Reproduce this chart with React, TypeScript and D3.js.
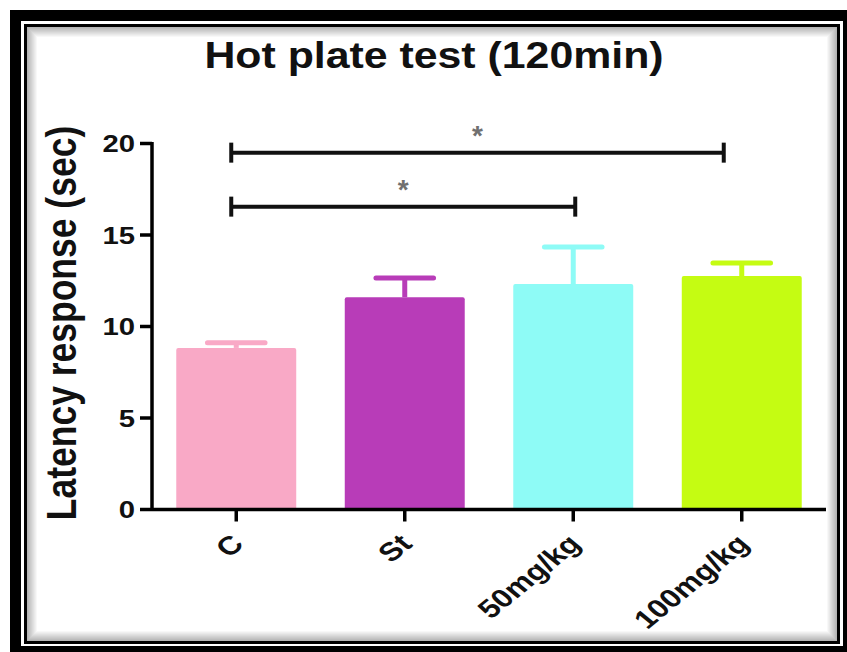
import React from 'react';
import * as d3 from 'd3';

// ---- data ----
const categories = ['C', 'St', '50mg/kg', '100mg/kg'];
const means = [8.83, 11.6, 12.32, 12.76];
const errors = [0.28, 1.05, 2.02, 0.71];
const colors = ['#F9A9C6', '#B83CB8', '#8EFBF6', '#C5FC12'];
const yTicks = [0, 5, 10, 15, 20];
const bracketFrom = ['C', 'C'];
const bracketTo = ['100mg/kg', '50mg/kg'];
const bracketLevel = [19.5, 16.55];
const bracketLabel = ['*', '*'];
const titleText = 'Hot plate test (120min)';
const yLabelText = 'Latency response (sec)';

// ---- layout ----
const W = 847;
const H = 652;
const plotLeft = 152;
const plotRight = 826;
const plotBottom = 509.5;
const plotTop = 143.5;
const SX = 1.22; // horizontal stretch of the reference text
const FONT = '"Liberation Sans", Arial, Helvetica, sans-serif';
const bracketEndOffsets: Record<string, number> = { C: -5, '50mg/kg': 2, '100mg/kg': -18 };

export default function App() {
  const x = d3.scaleBand<string>().domain(categories).range([plotLeft, plotRight]).padding(0);
  const y = d3.scaleLinear().domain([0, 20]).range([plotBottom, plotTop]);
  const bw = x.bandwidth() * 0.712;
  const capW = bw * 0.48;
  const cx = (c: string) => (x(c) as number) + x.bandwidth() / 2;

  const shadow = d3.range(1, 11).map((i) => ({ i, op: 0.32 * (1 - i / 11) }));

  return (
    <div style={{ position: 'absolute', left: 0, top: 0, width: W, height: H, background: '#fff' }}>
      <svg width={W} height={H} style={{ display: 'block' }}>
        {/* frame */}
        <rect x={10} y={10} width={837} height={642} fill="#000" />
        <rect x={21} y={21} width={822} height={625} fill="#fff" />
        <rect x={25.5} y={25.5} width={813} height={617} fill="none" stroke="#000" strokeWidth={3} />
        {shadow.map((s) => (
          <rect
            key={s.i}
            x={27 + s.i - 0.5}
            y={27 + s.i - 0.5}
            width={810 - 2 * s.i + 1}
            height={614 - 2 * s.i + 1}
            fill="none"
            stroke="#000"
            strokeOpacity={s.op}
            strokeWidth={1}
          />
        ))}

        {/* title */}
        <text
          transform={`translate(434,68) scale(1.19,1)`}
          textAnchor="middle"
          fontFamily={FONT}
          fontWeight="bold"
          fontSize={36}
          fill="#111"
        >
          {titleText}
        </text>

        {/* y label */}
        <text
          transform={`translate(76,323) scale(${SX},1) rotate(-90)`}
          textAnchor="middle"
          fontFamily={FONT}
          fontWeight="bold"
          fontSize={35.5}
          fill="#111"
        >
          {yLabelText}
        </text>

        {/* bars */}
        {categories.map((c, i) => (
          <rect
            key={c}
            x={cx(c) - bw / 2}
            y={y(means[i])}
            width={bw}
            height={plotBottom - y(means[i])}
            fill={colors[i]}
            rx={2}
          />
        ))}

        {/* error bars */}
        {categories.map((c, i) => (
          <g key={c} stroke={colors[i]} strokeWidth={5} strokeLinecap="round">
            <line x1={cx(c)} x2={cx(c)} y1={y(means[i])} y2={y(means[i] + errors[i])} strokeLinecap="butt" />
            <line x1={cx(c) - capW / 2} x2={cx(c) + capW / 2} y1={y(means[i] + errors[i])} y2={y(means[i] + errors[i])} />
          </g>
        ))}

        {/* axes */}
        <g stroke="#000" strokeWidth={3.5}>
          <line x1={plotLeft} x2={plotLeft} y1={plotTop - 1.5} y2={plotBottom + 1.5} />
          <line x1={plotLeft} x2={plotRight} y1={plotBottom} y2={plotBottom} />
          {yTicks.map((t) => (
            <line key={t} x1={140} x2={plotLeft} y1={y(t)} y2={y(t)} />
          ))}
          {categories.map((c) => (
            <line key={c} x1={cx(c)} x2={cx(c)} y1={plotBottom} y2={plotBottom + 12} />
          ))}
        </g>

        {/* y tick labels */}
        {yTicks.map((t) => (
          <text
            key={t}
            transform={`translate(135,${y(t) + 8.5}) scale(${SX},1)`}
            textAnchor="end"
            fontFamily={FONT}
            fontWeight="bold"
            fontSize={24}
            fill="#111"
          >
            {t}
          </text>
        ))}

        {/* x tick labels */}
        {categories.map((c) => (
          <text
            key={c}
            transform={`translate(${cx(c) + 1},539) scale(${SX},1) rotate(-45)`}
            textAnchor="end"
            dy="0.35em"
            fontFamily={FONT}
            fontWeight="bold"
            fontSize={26}
            fill="#111"
          >
            {c}
          </text>
        ))}

        {/* significance brackets */}
        {bracketFrom.map((f, i) => {
          const x1 = cx(f) + bracketEndOffsets[f];
          const x2 = cx(bracketTo[i]) + bracketEndOffsets[bracketTo[i]];
          const yy = y(bracketLevel[i]);
          return (
            <g key={i}>
              <g stroke="#111" strokeWidth={4}>
                <line x1={x1} x2={x2} y1={yy} y2={yy} />
                <line x1={x1} x2={x1} y1={yy - 10} y2={yy + 10} />
                <line x1={x2} x2={x2} y1={yy - 10} y2={yy + 10} />
              </g>
              <text
                x={(x1 + x2) / 2}
                y={yy - 8}
                textAnchor="middle"
                fontFamily={FONT}
                fontWeight="bold"
                fontSize={28}
                fill="#707070"
              >
                {bracketLabel[i]}
              </text>
            </g>
          );
        })}
      </svg>
    </div>
  );
}
